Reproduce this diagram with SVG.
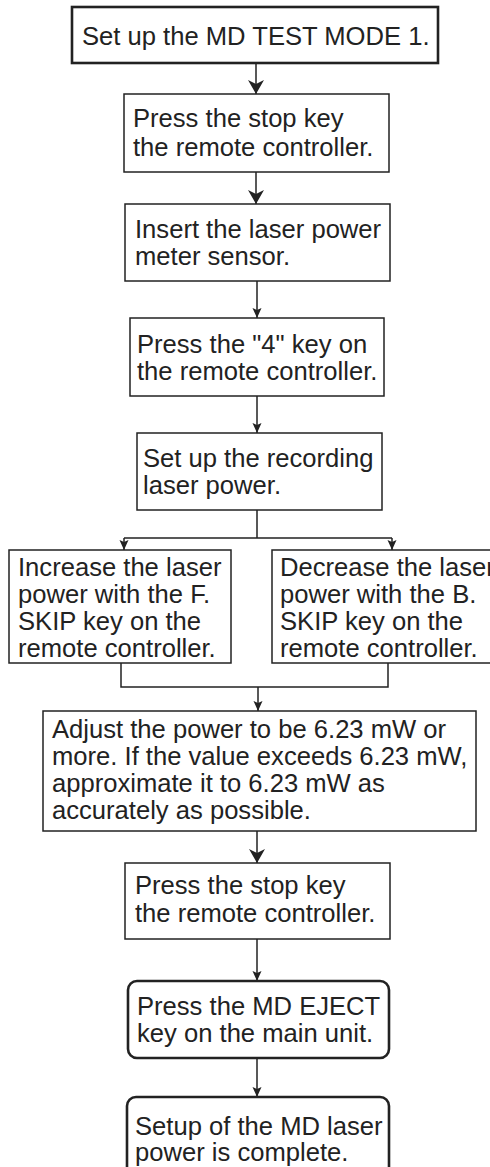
<svg xmlns="http://www.w3.org/2000/svg" width="490" height="1167" viewBox="0 0 490 1167">
<style>
text{font-family:"Liberation Sans",Arial,Helvetica,sans-serif;font-size:25.6px;fill:#222}
.box{fill:#fff;stroke:#222;stroke-width:1.5}
.thick{fill:#fff;stroke:#222;stroke-width:2.6}
.ln{fill:none;stroke:#222;stroke-width:1.5}
</style>
<defs>
<marker id="big" markerUnits="userSpaceOnUse" markerWidth="16" markerHeight="18" refX="14" refY="8.5" orient="auto"><path d="M0,0.5 L14,8.5 L0,16.5 L4,8.5 Z" fill="#222"/></marker>
<marker id="sm" markerUnits="userSpaceOnUse" markerWidth="12" markerHeight="10" refX="10" refY="4.5" orient="auto"><path d="M0,0 L10,4.5 L0,9 L2,4.5 Z" fill="#222"/></marker>
</defs>
<rect width="490" height="1167" fill="#fff"/>
<g id="connectors">
<path class="ln" d="M256,63 V94" marker-end="url(#big)"/>
<path class="ln" d="M256,172 V204" marker-end="url(#big)"/>
<path class="ln" d="M257,281 V318" marker-end="url(#sm)"/>
<path class="ln" d="M257,396 V433" marker-end="url(#sm)"/>
<path class="ln" d="M257,510 V538 M124,538 H392"/>
<path class="ln" d="M124,538 V550" marker-end="url(#sm)"/>
<path class="ln" d="M392,538 V550" marker-end="url(#sm)"/>
<path class="ln" d="M121,663 V687 H388 V663"/>
<path class="ln" d="M258,687 V711" marker-end="url(#sm)"/>
<path class="ln" d="M257,831 V863" marker-end="url(#big)"/>
<path class="ln" d="M257,939 V981" marker-end="url(#sm)"/>
<path class="ln" d="M257,1058 V1097" marker-end="url(#sm)"/>
</g>
<g id="n1"><rect class="thick" x="72" y="7" width="366" height="56"/><text x="82" y="45">Set up the MD TEST MODE 1.</text></g>
<g id="n2"><rect class="box" x="124" y="94" width="265" height="78"/><text x="133" y="127">Press the stop key</text><text x="133" y="156">the remote controller.</text></g>
<g id="n3"><rect class="box" x="125" y="204" width="265" height="77"/><text x="135" y="238">Insert the laser power</text><text x="135" y="265">meter sensor.</text></g>
<g id="n4"><rect class="box" x="130" y="318" width="254" height="78"/><text x="137" y="353">Press the "4" key on</text><text x="137" y="380">the remote controller.</text></g>
<g id="n5"><rect class="box" x="137" y="433" width="245" height="77"/><text x="143" y="467">Set up the recording</text><text x="143" y="494">laser power.</text></g>
<g id="n6"><rect class="box" x="9" y="550" width="222" height="113"/><text x="18" y="576">Increase the laser</text><text x="18" y="603">power with the F.</text><text x="18" y="630">SKIP key on the</text><text x="18" y="657">remote controller.</text></g>
<g id="n7"><rect class="box" x="272" y="550" width="230" height="113"/><text x="280" y="576">Decrease the laser</text><text x="280" y="603">power with the B.</text><text x="280" y="630">SKIP key on the</text><text x="280" y="657">remote controller.</text></g>
<g id="n8"><rect class="box" x="43" y="711" width="433" height="120"/><text x="52" y="738">Adjust the power to be 6.23 mW or</text><text x="52" y="765">more. If the value exceeds 6.23 mW,</text><text x="52" y="792">approximate it to 6.23 mW as</text><text x="52" y="819">accurately as possible.</text></g>
<g id="n9"><rect class="box" x="125" y="863" width="265" height="76"/><text x="135" y="894">Press the stop key</text><text x="135" y="922">the remote controller.</text></g>
<g id="n10"><rect class="thick" x="128" y="981" width="261" height="77" rx="9"/><text x="137" y="1015">Press the MD EJECT</text><text x="137" y="1042">key on the main unit.</text></g>
<g id="n11"><rect class="thick" x="127" y="1097" width="262" height="90" rx="9"/><text x="135" y="1135">Setup of the MD laser</text><text x="135" y="1161">power is complete.</text></g>
</svg>
